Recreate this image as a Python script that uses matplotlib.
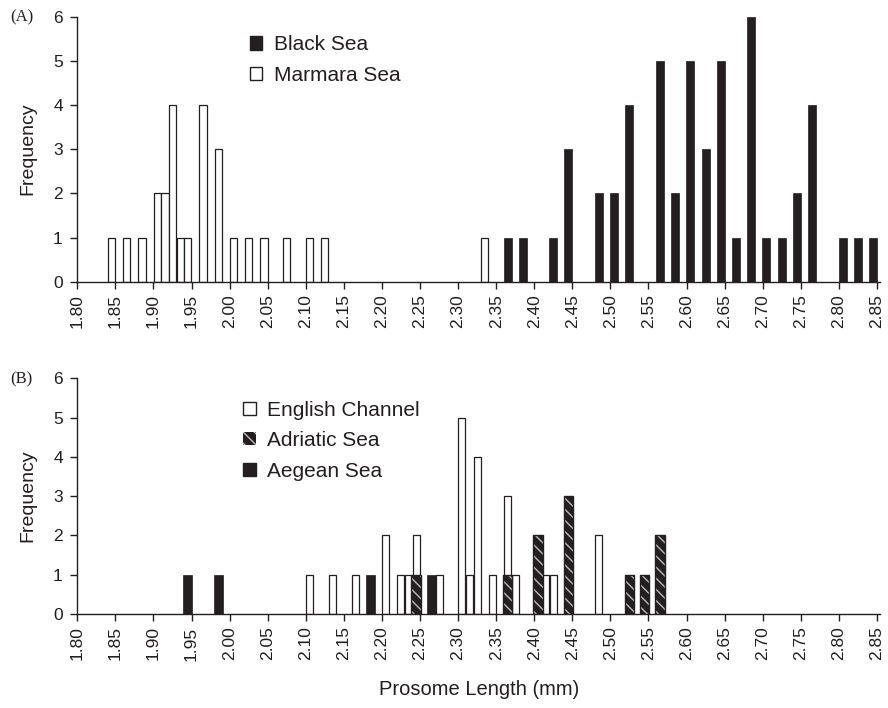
import matplotlib
matplotlib.use("Agg")
import matplotlib.pyplot as plt
from matplotlib.patches import Patch
import numpy as np

# ---- data (bin centres in mm, counts) ----
marmara_x = [1.845, 1.865, 1.885, 1.905, 1.915, 1.925, 1.935, 1.945, 1.965, 1.985,
             2.005, 2.025, 2.045, 2.075, 2.105, 2.125, 2.335]
marmara_y = [1, 1, 1, 2, 2, 4, 1, 1, 4, 3, 1, 1, 1, 1, 1, 1, 1]

black_x = [2.365, 2.385, 2.425, 2.445, 2.485, 2.505, 2.525, 2.565, 2.585, 2.605,
           2.625, 2.645, 2.665, 2.685, 2.705, 2.725, 2.745, 2.765, 2.805, 2.825, 2.845]
black_y = [1, 1, 1, 3, 2, 2, 4, 5, 2, 5, 3, 5, 1, 6, 1, 1, 2, 4, 1, 1, 1]

english_x = [2.105, 2.135, 2.165, 2.205, 2.225, 2.235, 2.245, 2.275, 2.305, 2.315,
             2.325, 2.345, 2.365, 2.375, 2.415, 2.425, 2.485]
english_y = [1, 1, 1, 2, 1, 1, 2, 1, 5, 1, 4, 1, 3, 1, 1, 1, 2]

adriatic_x = [2.245, 2.365, 2.405, 2.445, 2.525, 2.545, 2.565]
adriatic_y = [1, 1, 2, 3, 1, 1, 2]

aegean_x = [1.945, 1.985, 2.185, 2.265]
aegean_y = [1, 1, 1, 1]

tick_vals = np.round(np.arange(1.80, 2.851, 0.05), 2)
tick_labels = [f"{v:.2f}" for v in tick_vals]

DARK = "#231f20"
plt.rcParams['font.family'] = ['Liberation Sans', 'DejaVu Sans']

fig = plt.figure(figsize=(8.88, 7.08), dpi=100)
axA = fig.add_axes([0.0871, 0.6021, 0.9038, 0.3743])
axB = fig.add_axes([0.0871, 0.1328, 0.9038, 0.3329])

def style(ax):
    ax.set_xlim(1.80, 2.854)
    ax.set_ylim(0, 6)
    ax.set_yticks(range(7))
    ax.set_xticks(tick_vals)
    ax.set_xticklabels(tick_labels, rotation=90)
    for s in ['top', 'right']:
        ax.spines[s].set_visible(False)
    for s in ['left', 'bottom']:
        ax.spines[s].set_color(DARK)
        ax.spines[s].set_linewidth(1.0)
    ax.tick_params(axis='both', direction='out', length=5, width=1.0, color=DARK,
                   labelsize=12.5, labelcolor=DARK)
    ax.tick_params(axis='x', pad=4)
    ax.tick_params(axis='y', pad=5.5)
    ax.set_ylabel("Frequency", fontsize=14, color=DARK, labelpad=12)

leg_kw = dict(loc='upper left', frameon=False, fontsize=15, handlelength=0.6,
              handleheight=0.6, handletextpad=0.55, labelspacing=0.55,
              borderpad=0, borderaxespad=0, labelcolor=DARK)

# Panel A
axA.bar(marmara_x, marmara_y, width=0.0095, facecolor='white', edgecolor=DARK, linewidth=0.9, zorder=2)
axA.bar(black_x, black_y, width=0.0105, facecolor=DARK, edgecolor=DARK, linewidth=0.5, zorder=3)
style(axA)
hA = [Patch(facecolor=DARK, edgecolor=DARK, label="Black Sea"),
      Patch(facecolor='white', edgecolor=DARK, label="Marmara Sea")]
axA.legend(handles=hA, bbox_to_anchor=(0.215, 0.93), **leg_kw)
fig.text(0.012, 0.975, "(A)", family=['Liberation Serif', 'DejaVu Serif'], fontsize=12,
         color=DARK, va='center', ha='left')

# Panel B
axB.bar(english_x, english_y, width=0.0092, facecolor='white', edgecolor=DARK, linewidth=0.9, zorder=2)
axB.bar(adriatic_x, adriatic_y, width=0.0125, facecolor=DARK, edgecolor='#bbbbbb',
        linewidth=0, hatch='\\\\\\', zorder=3)
axB.bar(adriatic_x, adriatic_y, width=0.0125, facecolor='none', edgecolor=DARK,
        linewidth=1.0, zorder=4)
axB.bar(aegean_x, aegean_y, width=0.012, facecolor=DARK, edgecolor=DARK, linewidth=0.5, zorder=4)
style(axB)
axB.set_xlabel("Prosome Length (mm)", fontsize=14.5, color=DARK, labelpad=14)
hB = [Patch(facecolor='white', edgecolor=DARK, label="English Channel"),
      Patch(facecolor=DARK, edgecolor='#bbbbbb', hatch='\\\\\\', linewidth=0, label="Adriatic Sea"),
      Patch(facecolor=DARK, edgecolor=DARK, label="Aegean Sea")]
axB.legend(handles=hB, bbox_to_anchor=(0.207, 0.905), **leg_kw)
fig.text(0.012, 0.464, "(B)", family=['Liberation Serif', 'DejaVu Serif'], fontsize=12,
         color=DARK, va='center', ha='left')

fig.savefig("out.png", dpi=100)
